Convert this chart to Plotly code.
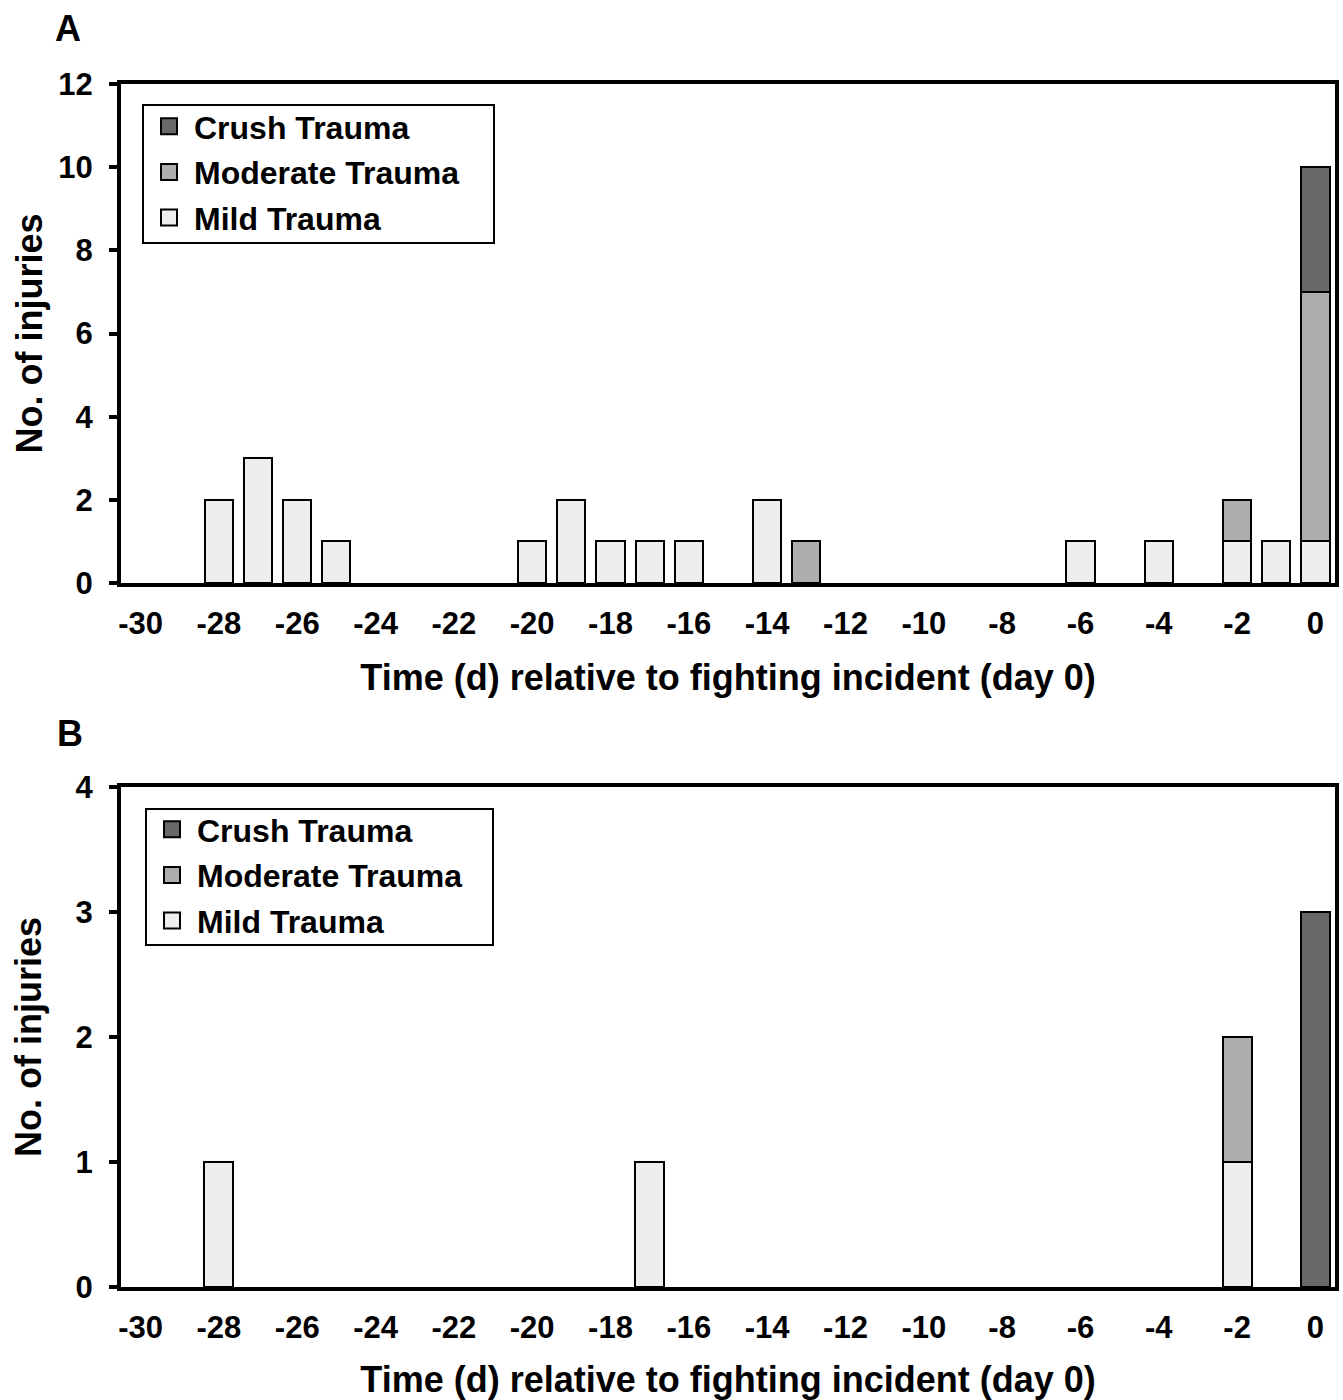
import plotly.graph_objects as go
from plotly.subplots import make_subplots

# ---- data ----
x_tick_vals = list(range(-30, 1, 2))
x_tick_text = [str(v) for v in x_tick_vals]

series_names = ["Mild Trauma", "Moderate Trauma", "Crush Trauma"]
series_colors = ["#eeeeee", "#adadad", "#686868"]

# Panel A
a_mild_days = [-28, -27, -26, -25, -20, -19, -18, -17, -16, -14, -6, -4, -2, -1, 0]
a_mild = [2, 3, 2, 1, 1, 2, 1, 1, 1, 2, 1, 1, 1, 1, 1]
a_moderate_days = [-13, -2, 0]
a_moderate = [1, 1, 6]
a_crush_days = [0]
a_crush = [3]

# Panel B
b_mild_days = [-28, -17, -2]
b_mild = [1, 1, 1]
b_moderate_days = [-2]
b_moderate = [1]
b_crush_days = [0]
b_crush = [3]

FONT = "Liberation Sans"

fig = make_subplots(rows=2, cols=1, vertical_spacing=0.0)

panels = [
    (1, "legend", 0.72, [(a_mild_days, a_mild), (a_moderate_days, a_moderate), (a_crush_days, a_crush)]),
    (2, "legend2", 0.74, [(b_mild_days, b_mild), (b_moderate_days, b_moderate), (b_crush_days, b_crush)]),
]

for row, leg, width, data in panels:
    for (days, vals), name, color in zip(data, series_names, series_colors):
        fig.add_trace(
            go.Bar(
                x=days, y=vals, name=name, width=width,
                marker=dict(color=color, line=dict(color="black", width=2)),
                showlegend=False,
            ),
            row=row, col=1,
        )
    # legend entries (square swatches), listed top to bottom
    for name, color in list(zip(series_names, series_colors))[::-1]:
        fig.add_trace(
            go.Scatter(
                x=[None], y=[None], mode="markers", name=name,
                marker=dict(symbol="square", size=16, color=color,
                            line=dict(color="black", width=2)),
                legend=leg, legendgroup=leg + name, showlegend=True,
            ),
            row=row, col=1,
        )

tickfont = dict(family=FONT, size=31, color="black", weight="bold")
titlefont = dict(family=FONT, size=36, color="black", weight="bold")
legfont = dict(family=FONT, size=32, color="black", weight="bold")

W, H = 1343, 1400
left, right = 121, 1335
top, bottom = 84, 1287
pw = right - left
span = bottom - top
dom_a = [(bottom - 583) / span, 1.0]
dom_b = [0.0, (bottom - 787) / span]


def px_x(v):
    return (v - left) / pw


def px_y(v):
    return (bottom - v) / span


leg_common = dict(
    xanchor="left", yanchor="top",
    borderwidth=0, bgcolor="rgba(0,0,0,0)",
    font=legfont, traceorder="grouped", tracegroupgap=1,
    itemwidth=40, itemsizing="trace",
)

fig.update_layout(
    width=W, height=H,
    margin=dict(l=left, r=W - right, t=top, b=H - bottom, autoexpand=False),
    barmode="stack",
    plot_bgcolor="white", paper_bgcolor="white",
    bargap=0,
    legend=dict(x=px_x(144), y=px_y(99), **leg_common),
    legend2=dict(x=px_x(147), y=px_y(802), **leg_common),
)

# legend frames
for x0, y0, x1, y1 in [(143, 105, 494, 243), (146, 809, 493, 945)]:
    fig.add_shape(type="rect", xref="paper", yref="paper",
                  x0=px_x(x0), x1=px_x(x1), y0=px_y(y0), y1=px_y(y1),
                  line=dict(color="black", width=2), fillcolor="white", layer="above")

for row, dom, rng, dt, ystand in [(1, dom_a, [0, 12], 2, 6), (2, dom_b, [0, 4], 1, 24)]:
    fig.update_xaxes(
        row=row, col=1,
        range=[-30.5, 0.5], tickmode="array", tickvals=x_tick_vals, ticktext=x_tick_text,
        showline=True, linecolor="black", linewidth=4, mirror=True,
        showgrid=False, zeroline=False, ticks="",
        tickfont=tickfont, ticklabelstandoff=10,
        title=dict(text="Time (d) relative to fighting incident (day 0)", font=titlefont, standoff=26),
        anchor="y" if row == 1 else "y2",
    )
    fig.update_yaxes(
        row=row, col=1,
        domain=dom, range=rng, dtick=dt,
        showline=True, linecolor="black", linewidth=4, mirror=True,
        showgrid=False, zeroline=False,
        ticks="outside", ticklen=8, tickwidth=4, tickcolor="black",
        tickfont=tickfont, ticklabelstandoff=10,
        title=dict(text="No. of injuries", font=titlefont, standoff=ystand),
    )

for letter, px, py in [("A", 68, 28), ("B", 70, 733)]:
    fig.add_annotation(
        text=letter, x=px_x(px), y=px_y(py),
        xref="paper", yref="paper", xanchor="center", yanchor="middle", showarrow=False,
        font=dict(family=FONT, size=36, color="black", weight="bold"),
    )

fig.write_html("out.html")
